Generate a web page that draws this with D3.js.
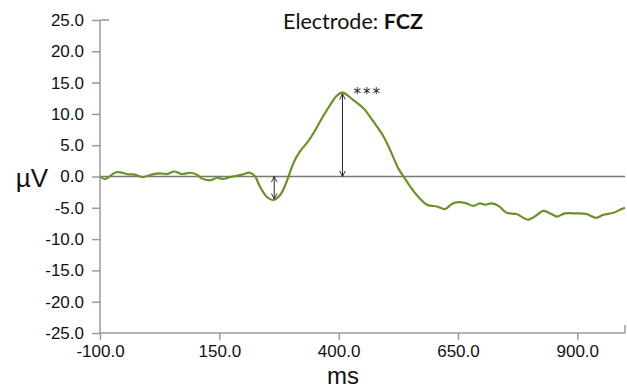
<!DOCTYPE html>
<html>
<head>
<meta charset="utf-8">
<script src="https://cdn.jsdelivr.net/npm/d3@7"></script>
<style>
  body { margin: 0; background: #fff; }
  svg { display: block; }
</style>
</head>
<body>
<div id="chart"></div>
<script>
// ERP waveform at FCZ
const times = [-100, -90, -65, -41, -27, -11, 8, 26, 40, 56, 71, 90, 103, 113, 131, 145, 158,
  172, 186, 200, 214, 225, 235, 249, 263, 277, 288, 295, 305, 319, 336, 351, 365, 382, 396, 408,
  431, 452, 473, 494, 511, 525, 536, 550, 564, 585, 606, 623, 637, 651, 668, 682, 696, 707, 721,
  735, 752, 773, 797, 811, 829, 846, 857, 874, 899, 920, 939, 955, 976, 993, 1000];
const microvolts = [0, -0.4, 0.7, 0.35, 0.3, -0.1, 0.3, 0.5, 0.4, 0.8, 0.4, 0.6, 0.3, -0.3, -0.6, -0.2, -0.4,
  -0.1, 0.1, 0.35, 0.6, 0, -1.6, -3.2, -3.75, -3, -1.4, 0, 2.1, 4.0, 5.6, 7.4, 9.3, 11.4, 12.9, 13.4,
  12.2, 10.9, 8.75, 6.4, 3.7, 1.3, 0, -1.6, -3, -4.5, -4.8, -5.2, -4.4, -4.1, -4.3, -4.7, -4.3, -4.5, -4.3,
  -4.7, -5.8, -6.0, -6.9, -6.4, -5.5, -6.0, -6.4, -5.9, -5.9, -6.0, -6.6, -6.1, -5.8, -5.2, -5.0];

const xTicks = [-100, 150, 400, 650, 900];
const yTicks = [-25, -20, -15, -10, -5, 0, 5, 10, 15, 20, 25];

// amplitude arrows (time, peak) and the significance mark
const arrowTimes = [265, 408];
const arrowPeaks = [-3.6, 13.2];
const sigLabel = '***';

const width = 627, height = 389;
const margin = { top: 20, right: 2, bottom: 56, left: 100 };

const svg = d3.select('#chart').append('svg')
  .attr('width', width)
  .attr('height', height);

const defs = svg.append('defs');
defs.append('marker')
  .attr('id', 'head')
  .attr('viewBox', '0 0 10 10')
  .attr('refX', 9).attr('refY', 5)
  .attr('markerWidth', 7).attr('markerHeight', 7)
  .attr('orient', 'auto-start-reverse')
  .append('path')
  .attr('d', 'M1,1 L9,5 L1,9')
  .attr('fill', 'none')
  .attr('stroke', '#222')
  .attr('stroke-width', 1.3);

const x = d3.scaleLinear().domain([-100, 1000]).range([margin.left, width - margin.right]);
const y = d3.scaleLinear().domain([-25, 25]).range([height - margin.bottom, margin.top]);

const axisColor = '#9a9a9a';
const fmt = d => d.toFixed(1);   // plain hyphen for negatives, like the original

// y axis
const yAxis = svg.append('g')
  .attr('transform', 'translate(' + margin.left + ',0)')
  .call(d3.axisLeft(y).tickValues(yTicks).tickFormat(fmt).tickSize(8).tickPadding(8));
yAxis.select('.domain').attr('stroke', axisColor).attr('stroke-width', 1.5)
  .attr('d', 'M0,' + y(25) + 'V' + y(-25));
yAxis.selectAll('.tick line').attr('stroke', axisColor).attr('stroke-width', 1.5);
yAxis.selectAll('.tick text')
  .attr('font-family', 'Liberation Sans, Arial, sans-serif')
  .attr('font-size', 17)
  .attr('fill', '#111');

// little cap on top of the y axis
svg.append('line')
  .attr('x1', margin.left).attr('x2', margin.left + 9)
  .attr('y1', y(25)).attr('y2', y(25))
  .attr('stroke', axisColor).attr('stroke-width', 1.5);

// x axis
const xAxis = svg.append('g')
  .attr('transform', 'translate(0,' + y(-25) + ')')
  .call(d3.axisBottom(x).tickValues(xTicks).tickFormat(fmt).tickSize(7).tickPadding(5));
xAxis.select('.domain').attr('stroke', axisColor).attr('stroke-width', 1.5)
  .attr('d', 'M' + x(-100) + ',0H' + x(1000));
xAxis.selectAll('.tick line').attr('stroke', axisColor).attr('stroke-width', 1.5);
xAxis.selectAll('.tick text')
  .attr('font-family', 'Liberation Sans, Arial, sans-serif')
  .attr('font-size', 17)
  .attr('fill', '#111');

// right end mark
svg.append('line')
  .attr('x1', x(1000)).attr('x2', x(1000))
  .attr('y1', y(-25)).attr('y2', y(-25) - 8)
  .attr('stroke', axisColor).attr('stroke-width', 1.5);

// zero line
svg.append('line')
  .attr('x1', x(-100)).attr('x2', x(1000))
  .attr('y1', y(0)).attr('y2', y(0))
  .attr('stroke', '#777').attr('stroke-width', 1.6);

// waveform
const line = d3.line()
  .x((d, i) => x(times[i]))
  .y(d => y(d))
  .curve(d3.curveCatmullRom.alpha(0.5));

svg.append('path')
  .datum(microvolts)
  .attr('fill', 'none')
  .attr('stroke', '#6b9128')
  .attr('stroke-width', 2.2)
  .attr('stroke-linejoin', 'round')
  .attr('d', line);

// amplitude arrows
arrowTimes.forEach((t, i) => {
  svg.append('line')
    .attr('x1', x(t)).attr('x2', x(t))
    .attr('y1', y(0)).attr('y2', y(arrowPeaks[i]))
    .attr('stroke', '#222').attr('stroke-width', 1)
    .attr('marker-start', 'url(#head)')
    .attr('marker-end', 'url(#head)');
});

svg.append('text')
  .attr('x', x(arrowTimes[1]) + 11)
  .attr('y', y(arrowPeaks[1]) + 5)
  .attr('font-family', 'DejaVu Sans, sans-serif')
  .attr('font-size', 15)
  .attr('letter-spacing', 2)
  .attr('fill', '#222')
  .text(sigLabel);

// title
const title = svg.append('text')
  .attr('x', 353)
  .attr('y', 29)
  .attr('text-anchor', 'middle')
  .attr('font-family', 'Lato, Open Sans, sans-serif')
  .attr('font-size', 21.5)
  .attr('fill', '#111');
title.append('tspan').text('Electrode: ');
title.append('tspan').attr('font-weight', 'bold').text('FCZ');

// axis labels
svg.append('text')
  .attr('x', 32)
  .attr('y', y(0) + 10)
  .attr('text-anchor', 'middle')
  .attr('font-family', 'Liberation Sans, Arial, sans-serif')
  .attr('font-size', 26)
  .attr('fill', '#111')
  .text('µV');

svg.append('text')
  .attr('x', 343)
  .attr('y', 384)
  .attr('text-anchor', 'middle')
  .attr('font-family', 'Liberation Sans, Arial, sans-serif')
  .attr('font-size', 24)
  .attr('fill', '#111')
  .text('ms');
</script>
</body>
</html>
